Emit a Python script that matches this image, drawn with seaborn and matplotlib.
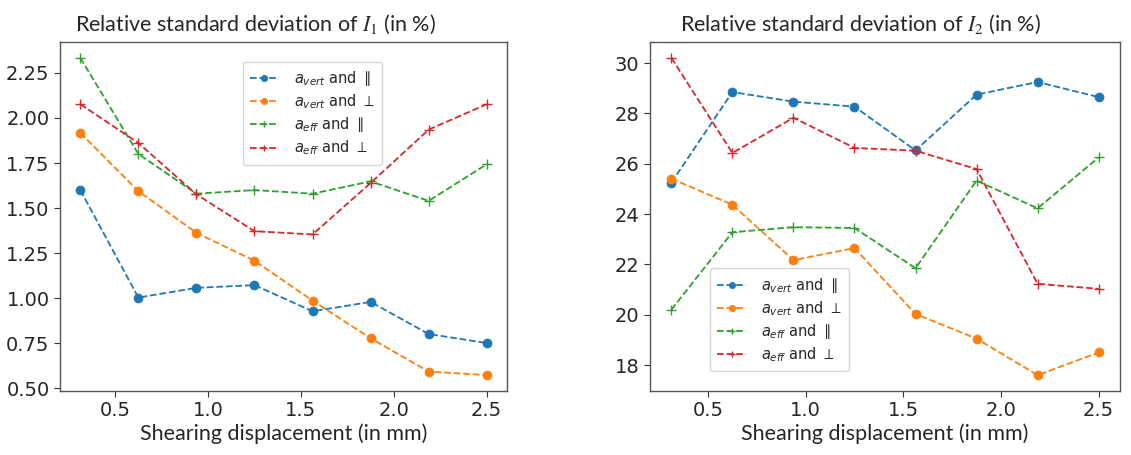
import numpy as np
import pandas as pd
import matplotlib
matplotlib.use("Agg")
import matplotlib.pyplot as plt
import seaborn as sns

x = [0.3125, 0.625, 0.9375, 1.25, 1.5625, 1.875, 2.1875, 2.5]

labels = [r"$a_{vert}$ and $\parallel$", r"$a_{vert}$ and $\perp$",
          r"$a_{eff}$ and $\parallel$", r"$a_{eff}$ and $\perp$"]

i1_vert_par = [1.60, 1.004, 1.058, 1.073, 0.928, 0.98, 0.802, 0.752]
i1_vert_perp = [1.917, 1.594, 1.363, 1.208, 0.987, 0.778, 0.594, 0.574]
i1_eff_par = [2.333, 1.80, 1.58, 1.60, 1.58, 1.648, 1.54, 1.743]
i1_eff_perp = [2.076, 1.861, 1.576, 1.372, 1.354, 1.639, 1.935, 2.076]

i2_vert_par = [25.25, 28.85, 28.47, 28.27, 26.53, 28.75, 29.25, 28.65]
i2_vert_perp = [25.41, 24.37, 22.17, 22.65, 20.03, 19.05, 17.6, 18.5]
i2_eff_par = [20.2, 23.28, 23.48, 23.45, 21.85, 25.33, 24.23, 26.25]
i2_eff_perp = [30.21, 26.43, 27.83, 26.63, 26.52, 25.79, 21.23, 21.03]

titles = [r"Relative standard deviation of $I_1$ (in %)",
          r"Relative standard deviation of $I_2$ (in %)"]
xlabel = "Shearing displacement (in mm)"

sns.set_style("ticks")
plt.rcParams['font.family'] = ['DejaVu Sans']
plt.rcParams['mathtext.fontset'] = 'dejavusans'

colors = ["#1f77b4", "#ff7f0e", "#2ca02c", "#d62728"]
markers = ["o", "o", "+", "+"]

fig = plt.figure(figsize=(11.31, 4.55), dpi=100)
W, H = 1131, 455
ax1 = fig.add_axes([60 / W, 64 / H, 447 / W, 349 / H])
ax2 = fig.add_axes([650 / W, 64 / H, 470 / W, 349 / H])

datasets = [
    [i1_vert_par, i1_vert_perp, i1_eff_par, i1_eff_perp],
    [i2_vert_par, i2_vert_perp, i2_eff_par, i2_eff_perp],
]
title_x = [0.438, 0.447]

for ax, series, title, tx in zip([ax1, ax2], datasets, titles, title_x):
    for vals, lab, c, m in zip(series, labels, colors, markers):
        df = pd.DataFrame({"x": x, "y": vals})
        sns.lineplot(data=df, x="x", y="y", ax=ax, color=c, marker=m,
                     linestyle="--", linewidth=1.3, markersize=6.5,
                     markeredgewidth=1.0 if m == "+" else 0.5,
                     markeredgecolor=c, label=lab)
    ax.set_title(title, fontsize=15.5, family=["Lato", "DejaVu Sans"],
                 math_fontfamily="stix", pad=8, x=tx)
    ax.set_xlabel(xlabel, fontsize=15.5, family=["Lato", "DejaVu Sans"],
                  labelpad=2)
    ax.set_ylabel("")
    ax.tick_params(length=4, color="#333333")
    for s in ax.spines.values():
        s.set_color("#555555")
        s.set_linewidth(1.0)
    ax.set_xticks([0.5, 1.0, 1.5, 2.0, 2.5])

ax1.set_yticks([0.50, 0.75, 1.00, 1.25, 1.50, 1.75, 2.00, 2.25])
ax1.yaxis.set_major_formatter(matplotlib.ticker.FormatStrFormatter("%.2f"))
ax2.set_yticks([18, 20, 22, 24, 26, 28, 30])

for ax in (ax1, ax2):
    for t in ax.get_xticklabels() + ax.get_yticklabels():
        t.set_fontfamily("DejaVu Sans")
        t.set_fontsize(14)

leg_kw = dict(fontsize=10.5, frameon=True, handlelength=2.0,
              markerscale=0.7, labelspacing=0.3, borderpad=0.5,
              handletextpad=1.0)
ax1.legend(loc="upper left", bbox_to_anchor=(0.392, 0.965), **leg_kw)
ax2.legend(loc="lower left", bbox_to_anchor=(0.112, 0.035), **leg_kw)

fig.savefig("out.png", dpi=100)
